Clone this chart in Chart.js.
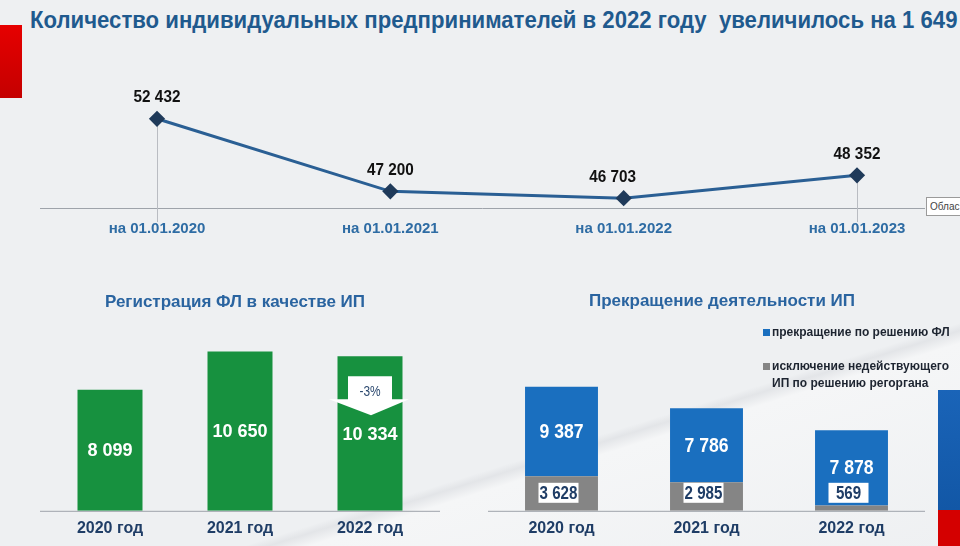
<!DOCTYPE html>
<html lang="ru">
<head>
<meta charset="utf-8">
<script src="https://cdn.jsdelivr.net/npm/chart.js@4/dist/chart.umd.min.js"></script>
<style>
  html, body { margin: 0; padding: 0; }
  body {
    width: 960px; height: 546px; position: relative; overflow: hidden;
    background: linear-gradient(162.7deg, #eef0f2 0%, #eef0f2 73.6%, #e3e5e8 74.5%, #f5f6f7 76%, #eef0f2 100%);
    font-family: "Liberation Sans", Arial, sans-serif;
  }
  #redTab { position: absolute; left: 0; top: 25px; width: 22px; height: 73px;
    background: linear-gradient(#e60000, #c40000); }
  #title { position: absolute; left: 30px; top: 6px; white-space: nowrap; transform: scaleX(0.923); transform-origin: 0 0;
    font: bold 24px "Liberation Sans", sans-serif; color: #1f5a8e; }
  #tip { position: absolute; left: 926px; top: 197px; width: 40px; height: 19px;
    border: 1px solid #9a9a9a; background: #fff; font: 10px "Liberation Sans", sans-serif;
    color: #444; line-height: 18px; padding-left: 3px; box-sizing: border-box; }
  #flagBlue { position: absolute; left: 938px; top: 390px; width: 22px; height: 120px;
    background: linear-gradient(#1a64b8, #1257a6); }
  #flagRed { position: absolute; left: 938px; top: 510px; width: 22px; height: 36px; background: #d40000; }
  canvas { position: absolute; }
  #lineWrap { position: absolute; left: 0; top: 60px; width: 960px; height: 197px; }
  #regWrap { position: absolute; left: 30px; top: 280px; width: 410px; height: 258px; }
  #stopWrap { position: absolute; left: 480px; top: 280px; width: 480px; height: 258px; }
</style>
</head>
<body>
<div id="redTab"></div>
<div id="title">Количество индивидуальных предпринимателей в 2022 году&nbsp; увеличилось на 1 649</div>
<div id="flagBlue"></div>
<div id="flagRed"></div>
<div id="lineWrap"><canvas id="lineChart"></canvas></div>
<div id="regWrap"><canvas id="regChart"></canvas></div>
<div id="stopWrap"><canvas id="stopChart"></canvas></div>
<div id="tip">Облас</div>
<script>
// Data
const dateLabels = ['на 01.01.2020', 'на 01.01.2021', 'на 01.01.2022', 'на 01.01.2023'];
const ipCount = [52432, 47200, 46703, 48352];

const yearLabels = ['2020 год', '2021 год', '2022 год'];
const registered = [8099, 10650, 10334];
const regChangeLabel = '-3%';

const stopByPerson = [9387, 7786, 7878];
const stopByRegistrar = [3628, 2985, 569];
const stopLegend = [['прекращение по решению ФЛ'], ['исключение недействующего', 'ИП по решению регоргана']];

const fmt = v => v.toLocaleString('ru-RU').replace(/\s/g, ' ');
const navy = '#1f3d66';
const titleBlue = '#2a64a0';
const baseGray = '#9ea3aa';
const FONT = '"Liberation Sans", Arial, sans-serif';

// narrow text helper (the slide uses a condensed face)
function narrowText(ctx, txt, x, y, sx) {
    ctx.save();
    ctx.translate(x, y);
    ctx.scale(sx, 1);
    ctx.fillText(txt, 0, 0);
    ctx.restore();
}

// Baseline drawn across the whole panel width
const baseline = (x0, x1) => ({
    id: 'baseline',
    beforeDatasetsDraw(chart) {
        const { ctx, chartArea } = chart;
        ctx.save();
        ctx.strokeStyle = baseGray;
        ctx.lineWidth = 1;
        ctx.beginPath();
        ctx.moveTo(x0, chartArea.bottom + 0.5);
        ctx.lineTo(x1, chartArea.bottom + 0.5);
        ctx.stroke();
        ctx.restore();
    }
});

// hidden axis used only to reserve room so the title sits off-centre like the slide
const spacer = (w, pos) => ({
    position: pos, display: true, grid: { display: false }, border: { display: false },
    ticks: { display: false }, afterFit: s => { s.width = w; }
});

// ==== LINE CHART ====
const lineLabels = {
    id: 'lineLabels',
    beforeDatasetsDraw(chart) {
        const { ctx, chartArea } = chart;
        const pts = chart.getDatasetMeta(0).data;
        ctx.save();
        ctx.strokeStyle = '#b9bcc2';
        ctx.lineWidth = 1;
        [pts[0], pts[pts.length - 1]].forEach(p => {
            ctx.beginPath();
            ctx.moveTo(Math.round(p.x) + 0.5, p.y);
            ctx.lineTo(Math.round(p.x) + 0.5, chartArea.bottom + 14);
            ctx.stroke();
        });
        ctx.restore();
    },
    afterDatasetsDraw(chart) {
        const { ctx } = chart;
        ctx.save();
        ctx.font = 'bold 17px ' + FONT;
        ctx.fillStyle = '#111';
        ctx.textAlign = 'center';
        ctx.textBaseline = 'middle';
        chart.getDatasetMeta(0).data.forEach((p, i) => {
            const dx = i === 2 ? -11 : 0;
            narrowText(ctx, fmt(ipCount[i]), p.x + dx, p.y - 21, 0.9);
        });
        ctx.restore();
    }
};

new Chart(document.getElementById('lineChart'), {
    type: 'line',
    data: {
        labels: dateLabels,
        datasets: [{
            data: ipCount,
            borderColor: '#2a5f94',
            borderWidth: 3,
            pointStyle: 'rectRot',
            pointRadius: 6,
            pointBackgroundColor: '#1f3a5a',
            pointBorderColor: '#1f3a5a',
            tension: 0
        }]
    },
    options: {
        responsive: true,
        maintainAspectRatio: false,
        animation: false,
        layout: { padding: { left: 157, right: 103, top: 37, bottom: 15 } },
        scales: {
            x: {
                offset: false,
                grid: { display: false },
                border: { display: false },
                ticks: { color: '#2e6ca4', padding: 4, maxRotation: 0,
                    font: { size: 15, weight: 'bold', family: FONT } }
            },
            y: { display: false, min: 46000, max: 54000 }
        },
        plugins: { legend: { display: false }, tooltip: { enabled: false } }
    },
    plugins: [baseline(40, 925), lineLabels]
});

// ==== REGISTRATION CHART ====
const regLabels = {
    id: 'regLabels',
    afterDatasetsDraw(chart) {
        const { ctx, chartArea } = chart;
        const bars = chart.getDatasetMeta(0).data;
        ctx.save();
        ctx.textAlign = 'center';
        ctx.textBaseline = 'middle';
        ctx.font = 'bold 19px ' + FONT;
        ctx.fillStyle = '#fff';
        bars.forEach((b, i) => {
            narrowText(ctx, fmt(registered[i]), b.x, (b.y + chartArea.bottom) / 2 + 1, 0.95);
        });
        // down arrow on last bar
        const b = bars[bars.length - 1];
        const top = b.y + 20;
        ctx.fillStyle = '#ffffff';
        ctx.beginPath();
        ctx.moveTo(b.x - 22, top);
        ctx.lineTo(b.x + 22, top);
        ctx.lineTo(b.x + 22, top + 23);
        ctx.lineTo(b.x + 39, top + 23);
        ctx.lineTo(b.x + 1, top + 39);
        ctx.lineTo(b.x - 41, top + 23);
        ctx.lineTo(b.x - 22, top + 23);
        ctx.closePath();
        ctx.fill();
        ctx.fillStyle = '#2d4a70';
        ctx.font = '14px ' + FONT;
        narrowText(ctx, regChangeLabel, b.x, top + 16, 0.85);
        ctx.restore();
    }
};

new Chart(document.getElementById('regChart'), {
    type: 'bar',
    data: {
        labels: yearLabels,
        datasets: [{ data: registered, backgroundColor: '#17913f', barPercentage: 0.5, categoryPercentage: 1 }]
    },
    options: {
        responsive: true,
        maintainAspectRatio: false,
        animation: false,
        layout: { padding: { left: 5, right: 5, top: 0, bottom: 0 } },
        scales: {
            x: {
                grid: { display: false },
                border: { display: false },
                ticks: { color: navy, padding: 0,
                    font: { size: 16, weight: 'bold', family: FONT } }
            },
            y: { display: false, min: 0, max: 12000 },
            pad: spacer(10, 'left')
        },
        plugins: {
            legend: { display: false },
            tooltip: { enabled: false },
            title: {
                display: true,
                text: 'Регистрация ФЛ в качестве ИП',
                color: titleBlue,
                padding: { top: 12, bottom: 19 },
                font: { size: 17, weight: 'bold', family: FONT }
            }
        }
    },
    plugins: [baseline(10, 410), regLabels]
});

// ==== TERMINATION CHART ====
const stopLabels = {
    id: 'stopLabels',
    afterDatasetsDraw(chart) {
        const { ctx, chartArea } = chart;
        const gray = chart.getDatasetMeta(0).data;
        const blue = chart.getDatasetMeta(1).data;
        ctx.save();
        ctx.textAlign = 'center';
        ctx.textBaseline = 'middle';
        ctx.font = 'bold 20px ' + FONT;
        ctx.fillStyle = '#fff';
        blue.forEach((b, i) => narrowText(ctx, fmt(stopByPerson[i]), b.x, (b.y + b.base) / 2 + 1, 0.88));
        ctx.font = 'bold 18px ' + FONT;
        gray.forEach((b, i) => {
            const cy = chartArea.bottom - 18;
            const txt = fmt(stopByRegistrar[i]);
            ctx.fillStyle = '#fff';
            ctx.fillRect(b.x - 23, cy - 10, 40, 20);
            ctx.fillStyle = navy;
            narrowText(ctx, txt, b.x - 3, cy + 1, 0.84);
        });
        // legend
        const lx = 283, colors = ['#1a6fbf', '#858585'], ys = [52, 86];
        ctx.textAlign = 'left';
        ctx.font = 'bold 12px ' + FONT;
        stopLegend.forEach((lines, i) => {
            ctx.fillStyle = colors[i];
            ctx.fillRect(lx, ys[i] - 3, 7, 7);
            ctx.fillStyle = '#1d2430';
            lines.forEach((t, j) => ctx.fillText(t, lx + 9, ys[i] + 1 + j * 17));
        });
        ctx.restore();
    }
};

new Chart(document.getElementById('stopChart'), {
    type: 'bar',
    data: {
        labels: yearLabels,
        datasets: [
            { label: stopLegend[1].join(' '), data: stopByRegistrar, backgroundColor: '#858585', barPercentage: 0.503, categoryPercentage: 1 },
            { label: stopLegend[0].join(' '), data: stopByPerson, backgroundColor: '#1a6fbf', barPercentage: 0.503, categoryPercentage: 1 }
        ]
    },
    options: {
        responsive: true,
        maintainAspectRatio: false,
        animation: false,
        layout: { padding: { left: 9, right: 5, top: 0, bottom: 0 } },
        scales: {
            x: {
                stacked: true,
                grid: { display: false },
                border: { display: false },
                ticks: { color: navy, padding: 0,
                    font: { size: 16, weight: 'bold', family: FONT } }
            },
            y: { display: false, stacked: true, min: 0, max: 14000 },
            pad: spacer(31, 'right')
        },
        plugins: {
            legend: { display: false },
            tooltip: { enabled: false },
            title: {
                display: true,
                text: 'Прекращение деятельности ИП',
                color: titleBlue,
                padding: { top: 11, bottom: 66 },
                font: { size: 17, weight: 'bold', family: FONT }
            }
        }
    },
    plugins: [baseline(8, 445), stopLabels]
});
</script>
</body>
</html>
